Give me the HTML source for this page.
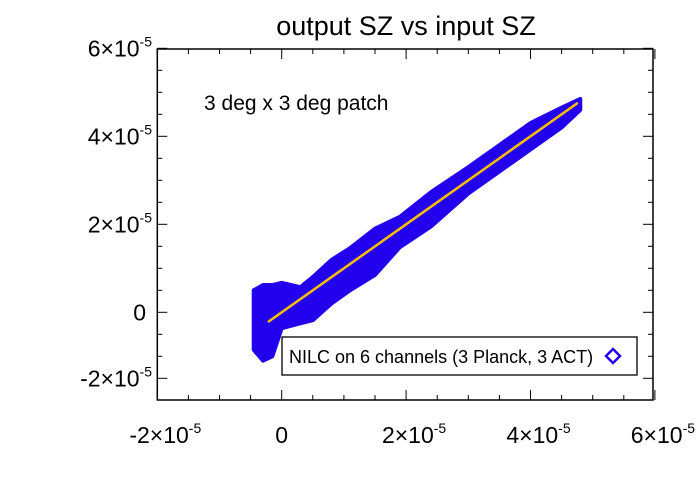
<!DOCTYPE html>
<html><head><meta charset="utf-8"><style>
body{margin:0;background:#fff}
svg{display:block;font-family:"Liberation Sans",sans-serif}
</style></head><body>
<svg id="c" width="700" height="500">
<text x="406" y="35" font-size="27" text-anchor="middle">output SZ vs input SZ</text>
<text x="204" y="110" font-size="21">3 deg x 3 deg patch</text>
<g id="band"></g>
<g id="fit"></g>
<g id="axes"></g>
<rect x="282" y="337" width="355" height="38" fill="#fff" stroke="#000" stroke-width="1.3"/>
<text x="289" y="363" font-size="18">NILC on 6 channels (3 Planck, 3 ACT)</text>
<path d="M613 349 L620 356 L613 363 L606 356 Z" fill="none" stroke="#2200ee" stroke-width="2.5"/>
</svg>
<script>
// data in units of 1e-5
const xs    = [-0.45,-0.3,-0.15,0.0,0.3,0.5,0.8,1.1,1.5,1.9,2.4,3.0,3.5,4.0,4.5,4.8];
const upper = [0.5,0.62,0.62,0.67,0.57,0.8,1.19,1.46,1.9,2.17,2.73,3.3,3.8,4.3,4.65,4.85];
const lower = [-0.85,-1.1,-1.0,-0.36,-0.25,-0.18,0.2,0.5,0.85,1.48,1.95,2.7,3.2,3.7,4.2,4.6];
const fitX = [-0.22,4.76];
const fitY = [-0.22,4.76];
const xTicks = [-2,0,2,4,6];
const xTickLabels = ["-2","0","2","4","6"];
const yTicks = [6,4,2,0,-1.5];
const yTickLabels = ["6","4","2","0","-2"];

const L=157.3,R=653,T=49,B=400;
const X=v=>281.7+v*62.2;
const Y=v=>312.3-v*44;
const NS="http://www.w3.org/2000/svg";
function mk(t,a,p){const e=document.createElementNS(NS,t);for(const k in a)e.setAttribute(k,a[k]);p.appendChild(e);return e;}

const band=document.getElementById('band');
let pts=xs.map((x,i)=>X(x)+','+Y(upper[i]));
for(let i=xs.length-1;i>=0;i--)pts.push(X(xs[i])+','+Y(lower[i]));
const poly=mk('polygon',{points:pts.join(' '),fill:'#2200ee',stroke:'#2200ee','stroke-width':4,'stroke-linejoin':'round'},band);



const fl=mk('line',{x1:X(fitX[0]),y1:Y(fitY[0]),x2:X(fitX[1]),y2:Y(fitY[1]),stroke:'#ffc000','stroke-width':2.5},document.getElementById('fit'));



const ax=document.getElementById('axes');
const fr=mk('rect',{x:L,y:T,width:R-L,height:B-T,fill:'none',stroke:'#000','stroke-width':1.5},ax);


for(let v=-2;v<=6.01;v+=0.5){
  const x=X(v),maj=Math.abs(v-Math.round(v/2)*2)<1e-6,len=maj?10:5;
  mk('line',{x1:x,y1:B,x2:x,y2:B-len,stroke:'#000','stroke-width':1},ax);
  mk('line',{x1:x,y1:T,x2:x,y2:T+len,stroke:'#000','stroke-width':1},ax);
}
for(let v=-1.5;v<=6.01;v+=0.5){
  const y=Y(v),maj=[6,4,2,0,-1.5].some(t=>Math.abs(t-v)<1e-6),len=maj?10:5;
  mk('line',{x1:L,y1:y,x2:L+len,y2:y,stroke:'#000','stroke-width':1},ax);
  mk('line',{x1:R,y1:y,x2:R-len,y2:y,stroke:'#000','stroke-width':1},ax);
}
function lab(txt,x,y,anchor,name){
  const t=mk('text',{x:x,y:y,'font-size':23,'text-anchor':anchor},ax);
  
  
  if(txt==="0"){t.textContent="0";return;}
  t.textContent=txt+"\u00d710";
  const s=mk('tspan',{dy:-10,'font-size':14},t);s.textContent="-5";
}
xTicks.forEach((v,i)=>lab(xTickLabels[i],X(v)+(xTickLabels[i]==="0"?0:8),443,'middle','x-tick-label'));
yTicks.forEach((v,i)=>lab(yTickLabels[i],yTickLabels[i]==="0"?146:152,Y(v)+8,'end','y-tick-label'));
</script>
</body></html>
